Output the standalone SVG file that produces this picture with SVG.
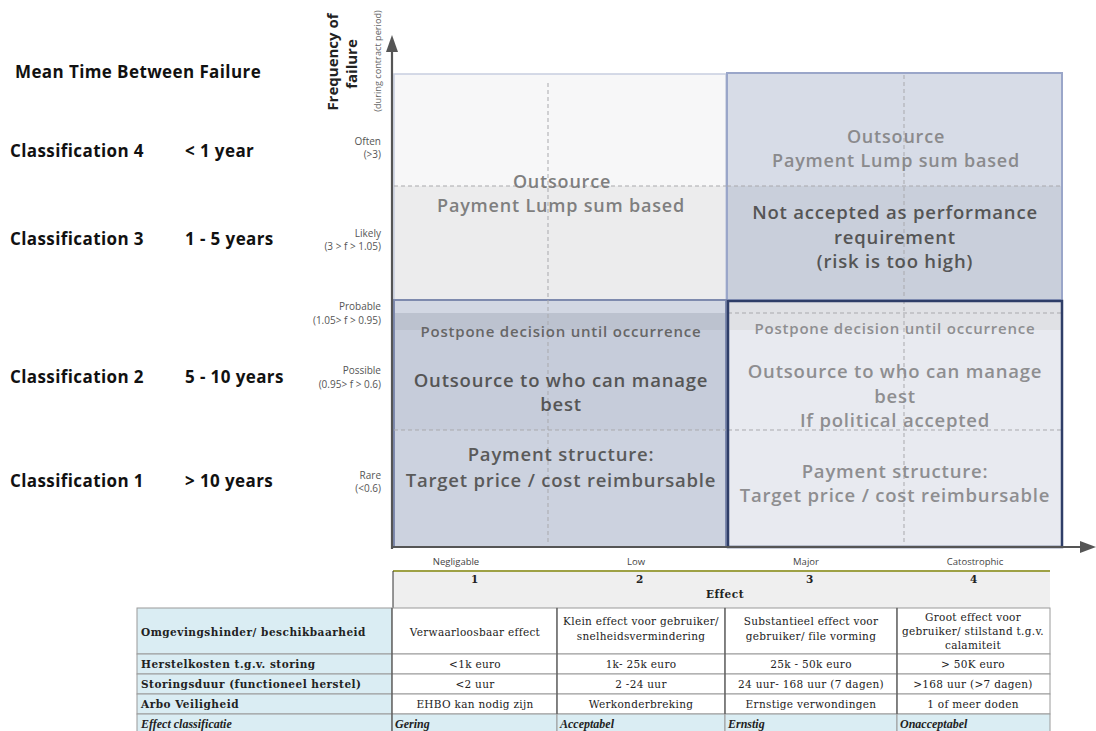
<svg xmlns="http://www.w3.org/2000/svg" width="1096" height="731" viewBox="0 0 1096 731">
  <style>
    .lbl { font-family: "Open Sans", "Liberation Sans", sans-serif; font-weight: 700; fill: #111; font-size: 17px; letter-spacing: 0.4px; }
    .ax { font-family: "Open Sans", "Liberation Sans", sans-serif; font-size: 10px; fill: #555; text-anchor: end; }
    .eff { font-family: "Open Sans", "Liberation Sans", sans-serif; font-size: 9.5px; fill: #444; text-anchor: middle; }
    .q { font-family: "Open Sans", "Liberation Sans", sans-serif; font-weight: 600; text-anchor: middle; letter-spacing: 0.8px; }
    .dash { stroke: #a9a9ad; stroke-width: 1; stroke-dasharray: 4 3; fill: none; }
    .tb { font-family: "DejaVu Serif", "Liberation Serif", serif; font-size: 10.5px; fill: #222; letter-spacing: 0.3px; }
    .tc { text-anchor: middle; }
    .th { font-weight: 700; letter-spacing: 0.5px; }
    .ti { font-family: "Liberation Serif", serif; font-size: 12px; font-weight: 700; font-style: italic; letter-spacing: 0; }
    .cell { fill: #fff; stroke: #9a9a9a; stroke-width: 1; }
    .cellb { fill: #daedf3; stroke: #9a9a9a; stroke-width: 1; }
  </style>

  <rect width="1096" height="731" fill="#ffffff"/>

  <!-- MTBF legend -->
  <g id="mtbf">
    <text class="lbl" x="15" y="78">Mean Time Between Failure</text>
    <text class="lbl" x="10" y="157">Classification 4</text>
    <text class="lbl" x="185" y="157">&lt; 1 year</text>
    <text class="lbl" x="10" y="245">Classification 3</text>
    <text class="lbl" x="185" y="245">1 - 5 years</text>
    <text class="lbl" x="10" y="383">Classification 2</text>
    <text class="lbl" x="185" y="383">5 - 10 years</text>
    <text class="lbl" x="10" y="487">Classification 1</text>
    <text class="lbl" x="185" y="487">&gt; 10 years</text>
  </g>

  <!-- vertical axis title -->
  <g id="y-title" font-family="Open Sans, Liberation Sans, sans-serif" text-anchor="middle">
    <text transform="translate(338,62) rotate(-90)" font-size="15" font-weight="700" fill="#222">Frequency of</text>
    <text transform="translate(357,64) rotate(-90)" font-size="15" font-weight="700" fill="#222">failure</text>
    <text transform="translate(381,61) rotate(-90)" font-size="9.2" fill="#666">(during contract period)</text>
  </g>

  <!-- frequency scale -->
  <g id="y-scale">
    <text class="ax" x="381" y="145">Often</text>
    <text class="ax" x="381" y="158">(&gt;3)</text>
    <text class="ax" x="381" y="237">Likely</text>
    <text class="ax" x="381" y="250">(3 &gt; f &gt; 1.05)</text>
    <text class="ax" x="381" y="310">Probable</text>
    <text class="ax" x="381" y="324">(1.05&gt; f &gt; 0.95)</text>
    <text class="ax" x="381" y="374">Possible</text>
    <text class="ax" x="381" y="388">(0.95&gt; f &gt; 0.6)</text>
    <text class="ax" x="381" y="479">Rare</text>
    <text class="ax" x="381" y="492">(&lt;0.6)</text>
  </g>

  <!-- top-left quadrant -->
  <g id="q-top-left">
    <rect x="394" y="74" width="332" height="112" fill="#f7f7f8"/>
    <rect x="394" y="186" width="332" height="114" fill="#ececed"/>
    <rect x="394" y="74" width="332" height="226" fill="none" stroke="#c7cedf" stroke-width="1.5"/>
    <path class="dash" d="M548 83V300M394 186H726"/>
    <text class="q" x="562" y="188" font-size="18" fill="#7f7f7f">Outsource</text>
    <text class="q" x="561" y="212" font-size="18" fill="#7f7f7f">Payment Lump sum based</text>
  </g>

  <!-- top-right quadrant -->
  <g id="q-top-right">
    <rect x="727" y="73" width="335" height="113" fill="#d7dce7"/>
    <rect x="727" y="186" width="335" height="114" fill="#c9cfdb"/>
    <rect x="727" y="73" width="335" height="227" fill="none" stroke="#9aa6c9" stroke-width="2"/>
    <path class="dash" d="M904 75V300M727 186H1062"/>
    <text class="q" x="896" y="143" font-size="18" fill="#8a8a8c">Outsource</text>
    <text class="q" x="896" y="167" font-size="18" fill="#8a8a8c">Payment Lump sum based</text>
    <text class="q" x="895" y="219" font-size="18.5" fill="#555">Not accepted as performance</text>
    <text class="q" x="895" y="244" font-size="18.5" fill="#555">requirement</text>
    <text class="q" x="895" y="268" font-size="18.5" fill="#555">(risk is too high)</text>
  </g>

  <!-- bottom-left quadrant -->
  <g id="q-bottom-left">
    <rect x="394" y="300" width="332" height="247" fill="#c6ccda"/>
    <rect x="394" y="301" width="332" height="12" fill="#d2d7e3"/>
    <rect x="394" y="313" width="332" height="17" fill="#bcc2cf"/>
    <rect x="394" y="430" width="332" height="117" fill="#ccd2df"/>
    <rect x="394" y="300" width="332" height="247" fill="none" stroke="#7e8aae" stroke-width="2"/>
    <path class="dash" d="M548 300V545M394 430H726"/>
    <text class="q" x="561" y="337" font-size="15" fill="#666" letter-spacing="0.6">Postpone decision until occurrence</text>
    <text class="q" x="561" y="387" font-size="18.5" fill="#555">Outsource to who can manage</text>
    <text class="q" x="561" y="411" font-size="18.5" fill="#555">best</text>
    <text class="q" x="561" y="461" font-size="18.5" fill="#5a5a5a">Payment structure:</text>
    <text class="q" x="561" y="487" font-size="18.5" fill="#5a5a5a">Target price / cost reimbursable</text>
  </g>

  <!-- bottom-right quadrant -->
  <g id="q-bottom-right">
    <rect x="728" y="301" width="334" height="246" fill="#e8eaf0"/>
    <rect x="729" y="302" width="332" height="28" fill="#e0e1e5"/>
    <path class="dash" d="M904 300V545M728 313H1062M728 430H1062"/>
    <rect x="728" y="301" width="334" height="246" fill="none" stroke="#2f3e68" stroke-width="2.5"/>
    <text class="q" x="895" y="334" font-size="15" fill="#8e8e90" letter-spacing="0.6">Postpone decision until occurrence</text>
    <text class="q" x="895" y="378" font-size="18.5" fill="#8e8e90">Outsource to who can manage</text>
    <text class="q" x="895" y="403" font-size="18.5" fill="#8e8e90">best</text>
    <text class="q" x="895" y="427" font-size="18.5" fill="#8e8e90">If political accepted</text>
    <text class="q" x="895" y="478" font-size="18.5" fill="#8e8e90">Payment structure:</text>
    <text class="q" x="895" y="502" font-size="18.5" fill="#8e8e90">Target price / cost reimbursable</text>
  </g>

  <!-- axes -->
  <g id="connectors" stroke="#555" fill="#555">
    <line x1="392" y1="549" x2="392" y2="50" stroke-width="2.2"/>
    <polygon points="392,35 386,52 398,52" stroke="none"/>
    <line x1="391" y1="547" x2="1082" y2="547" stroke-width="2.2"/>
    <polygon points="1096,547 1080,541 1080,553" stroke="none"/>
  </g>

  <!-- effect scale -->
  <g id="x-scale">
    <text class="eff" x="456" y="565">Negligable</text>
    <text class="eff" x="636" y="565">Low</text>
    <text class="eff" x="806" y="565">Major</text>
    <text class="eff" x="975" y="565">Catostrophic</text>
  </g>

  <!-- effect table -->
  <g id="effect-table" class="tb">
    <rect x="393" y="571" width="657" height="37" fill="#efefef"/>
    <line x1="393" y1="571" x2="1050" y2="571" stroke="#9ea145" stroke-width="2"/>
    <line x1="393" y1="571" x2="393" y2="608" stroke="#333" stroke-width="1"/>
    <text class="th tc" x="475" y="583">1</text>
    <text class="th tc" x="640" y="583">2</text>
    <text class="th tc" x="810" y="583">3</text>
    <text class="th tc" x="974" y="583">4</text>
    <text class="th tc" x="725" y="598">Effect</text>

    <!-- row 1 -->
    <rect class="cellb" x="137" y="608" width="255" height="46"/>
    <rect class="cell" x="392" y="608" width="165" height="46"/>
    <rect class="cell" x="557" y="608" width="168" height="46"/>
    <rect class="cell" x="725" y="608" width="172" height="46"/>
    <rect class="cell" x="897" y="608" width="153" height="46"/>
    <text class="th" x="141" y="636">Omgevingshinder/ beschikbaarheid</text>
    <text class="tc" x="475" y="636">Verwaarloosbaar effect</text>
    <text class="tc" x="641" y="625">Klein effect voor gebruiker/</text>
    <text class="tc" x="641" y="640">snelheidsvermindering</text>
    <text class="tc" x="811" y="625">Substantieel effect voor</text>
    <text class="tc" x="811" y="640">gebruiker/ file vorming</text>
    <text class="tc" x="973" y="621">Groot effect voor</text>
    <text class="tc" x="973" y="635">gebruiker/ stilstand t.g.v.</text>
    <text class="tc" x="973" y="649">calamiteit</text>

    <!-- row 2 -->
    <rect class="cellb" x="137" y="654" width="255" height="20"/>
    <rect class="cell" x="392" y="654" width="165" height="20"/>
    <rect class="cell" x="557" y="654" width="168" height="20"/>
    <rect class="cell" x="725" y="654" width="172" height="20"/>
    <rect class="cell" x="897" y="654" width="153" height="20"/>
    <text class="th" x="141" y="668">Herstelkosten t.g.v. storing</text>
    <text class="tc" x="475" y="668">&lt;1k euro</text>
    <text class="tc" x="641" y="668">1k- 25k euro</text>
    <text class="tc" x="811" y="668">25k - 50k euro</text>
    <text class="tc" x="973" y="668">&gt; 50K euro</text>

    <!-- row 3 -->
    <rect class="cellb" x="137" y="674" width="255" height="20"/>
    <rect class="cell" x="392" y="674" width="165" height="20"/>
    <rect class="cell" x="557" y="674" width="168" height="20"/>
    <rect class="cell" x="725" y="674" width="172" height="20"/>
    <rect class="cell" x="897" y="674" width="153" height="20"/>
    <text class="th" x="141" y="688">Storingsduur (functioneel herstel)</text>
    <text class="tc" x="475" y="688">&lt;2 uur</text>
    <text class="tc" x="641" y="688">2 -24 uur</text>
    <text class="tc" x="811" y="688">24 uur- 168 uur (7 dagen)</text>
    <text class="tc" x="973" y="688">&gt;168 uur (&gt;7 dagen)</text>

    <!-- row 4 -->
    <rect class="cellb" x="137" y="694" width="255" height="20"/>
    <rect class="cell" x="392" y="694" width="165" height="20"/>
    <rect class="cell" x="557" y="694" width="168" height="20"/>
    <rect class="cell" x="725" y="694" width="172" height="20"/>
    <rect class="cell" x="897" y="694" width="153" height="20"/>
    <text class="th" x="141" y="708">Arbo Veiligheid</text>
    <text class="tc" x="475" y="708">EHBO kan nodig zijn</text>
    <text class="tc" x="641" y="708">Werkonderbreking</text>
    <text class="tc" x="811" y="708">Ernstige verwondingen</text>
    <text class="tc" x="973" y="708">1 of meer doden</text>

    <!-- row 5 -->
    <rect class="cellb" x="137" y="714" width="255" height="19"/>
    <rect class="cellb" x="392" y="714" width="165" height="19"/>
    <rect class="cellb" x="557" y="714" width="168" height="19"/>
    <rect class="cellb" x="725" y="714" width="172" height="19"/>
    <rect class="cellb" x="897" y="714" width="153" height="19"/>
    <text class="ti" x="141" y="728">Effect classificatie</text>
    <text class="ti" x="395" y="728">Gering</text>
    <text class="ti" x="560" y="728">Acceptabel</text>
    <text class="ti" x="728" y="728">Ernstig</text>
    <text class="ti" x="900" y="728">Onacceptabel</text>

    <!-- darker column separators -->
    <path d="M392 608V734M557 608V714M725 608V714M897 608V714" stroke="#444" stroke-width="1" fill="none"/>
  </g>
</svg>
